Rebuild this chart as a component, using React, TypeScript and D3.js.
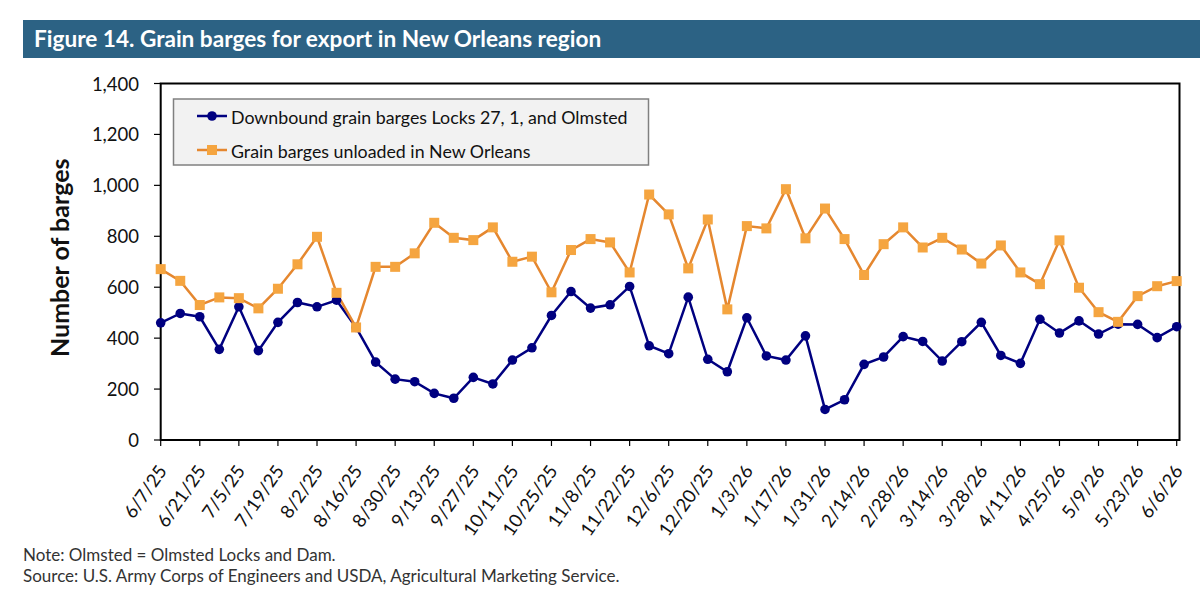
import React from "react";
import * as d3 from "d3";

const weeks = [
  "6/7/25","6/14/25","6/21/25","6/28/25","7/5/25","7/12/25","7/19/25","7/26/25",
  "8/2/25","8/9/25","8/16/25","8/23/25","8/30/25","9/6/25","9/13/25","9/20/25",
  "9/27/25","10/4/25","10/11/25","10/18/25","10/25/25","11/1/25","11/8/25","11/15/25",
  "11/22/25","11/29/25","12/6/25","12/13/25","12/20/25","12/27/25","1/3/26","1/10/26",
  "1/17/26","1/24/26","1/31/26","2/7/26","2/14/26","2/21/26","2/28/26","3/7/26",
  "3/14/26","3/21/26","3/28/26","4/4/26","4/11/26","4/18/26","4/25/26","5/2/26",
  "5/9/26","5/16/26","5/23/26","5/30/26","6/6/26",
];

const downbound = [
  460,497,484,356,523,351,462,540,523,549,442,306,239,229,183,164,246,220,
  314,362,489,583,518,531,603,370,339,561,317,268,480,330,314,409,120,
  158,297,326,406,387,310,386,462,332,301,474,420,468,416,455,454,402,445,
];

const unloaded = [
  671,625,530,560,557,517,594,690,798,578,442,680,680,733,853,794,785,835,
  700,720,580,746,789,776,658,964,886,674,866,513,840,831,985,792,909,
  789,648,769,835,756,794,748,693,764,658,612,784,598,502,464,565,604,624,
];

const yTicks = [0, 200, 400, 600, 800, 1000, 1200, 1400];
const xTickLabels = weeks.filter((_, i) => i % 2 === 0);

const seriesNames = [
  "Downbound grain barges Locks 27, 1, and Olmsted",
  "Grain barges unloaded in New Orleans",
];

const NAVY = "#000080";
const ORANGE_LINE = "#E5872F";
const ORANGE_FILL = "#F5A540";
const FONT = "Lato, 'Open Sans', sans-serif";

export default function App() {
  const W = 1200, H = 607;
  const left = 160.7, right = 1176.7, frameRight = 1179.5;
  const top = 83.5, bottom = 440;

  const x = d3.scalePoint<string>().domain(weeks).range([left, right]);
  const y = d3.scaleLinear().domain([0, 1400]).range([bottom, top]);

  const line = d3
    .line<number>()
    .x((_, i) => x(weeks[i]) as number)
    .y((d) => y(d));

  const fmt = d3.format(",");

  return (
    <svg
      width={W}
      height={H}
      style={{ position: "absolute", left: 0, top: 0, background: "#fff" }}
      fontFamily={FONT}
    >
      {/* Title bar */}
      <rect x={23} y={20} width={1177} height={38} fill="#2C6284" />
      <text x={34} y={47} fill="#fff" fontSize={22.6} fontWeight={700}>
        Figure 14. Grain barges for export in New Orleans region
      </text>

      {/* Y axis ticks and labels */}
      {yTicks.map((t) => (
        <g key={t}>
          <line x1={154} x2={left} y1={y(t)} y2={y(t)} stroke="#000" strokeWidth={1.2} />
          <text
            x={139}
            y={y(t)}
            textAnchor="end"
            dominantBaseline="central"
            fontSize={18.5}
            fill="#111"
          >
            {fmt(t)}
          </text>
        </g>
      ))}

      {/* Y axis title */}
      <text
        transform={`translate(69, ${(top + bottom) / 2 - 4}) rotate(-90)`}
        textAnchor="middle"
        fontSize={25}
        fontWeight={700}
        fill="#111"
      >
        Number of barges
      </text>

      {/* X ticks and labels */}
      {xTickLabels.map((lab) => {
        const px = x(lab) as number;
        return (
          <g key={lab}>
            <line x1={px} x2={px} y1={bottom} y2={bottom + 6} stroke="#000" strokeWidth={1.2} />
            <text
              transform={`translate(${px + 7}, ${bottom + 31}) rotate(-55)`}
              textAnchor="end"
              fontSize={18.5}
              fill="#111"
            >
              {lab}
            </text>
          </g>
        );
      })}

      {/* Plot frame */}
      <rect
        x={left}
        y={top}
        width={frameRight - left}
        height={bottom - top}
        fill="none"
        stroke="#000"
        strokeWidth={2}
      />

      {/* Series lines */}
      <path d={line(downbound) || ""} fill="none" stroke={NAVY} strokeWidth={2.5} />
      <path d={line(unloaded) || ""} fill="none" stroke={ORANGE_LINE} strokeWidth={2.5} />

      {downbound.map((v, i) => (
        <circle key={`b${i}`} cx={x(weeks[i])} cy={y(v)} r={4.8} fill={NAVY} />
      ))}
      {unloaded.map((v, i) => (
        <rect
          key={`o${i}`}
          x={(x(weeks[i]) as number) - 5}
          y={y(v) - 5}
          width={10}
          height={10}
          fill={ORANGE_FILL}
        />
      ))}

      {/* Legend */}
      <rect x={173.5} y={99} width={475} height={66} fill="#F2F2F2" stroke="#808080" strokeWidth={1.5} />
      <line x1={197} x2={227} y1={116} y2={116} stroke={NAVY} strokeWidth={2.5} />
      <circle cx={212} cy={116} r={4.8} fill={NAVY} />
      <text x={231} y={117} dominantBaseline="central" fontSize={17.8} fill="#111">
        {seriesNames[0]}
      </text>
      <line x1={197} x2={227} y1={150} y2={150} stroke={ORANGE_LINE} strokeWidth={2.5} />
      <rect x={207} y={145} width={10} height={10} fill={ORANGE_FILL} />
      <text x={231} y={151} dominantBaseline="central" fontSize={17.8} fill="#111">
        {seriesNames[1]}
      </text>

      {/* Notes */}
      <text x={23} y={561} fontSize={17} fill="#333">
        Note: Olmsted = Olmsted Locks and Dam.
      </text>
      <text x={23} y={582} fontSize={17} fill="#333">
        Source: U.S. Army Corps of Engineers and USDA, Agricultural Marketing Service.
      </text>
    </svg>
  );
}
